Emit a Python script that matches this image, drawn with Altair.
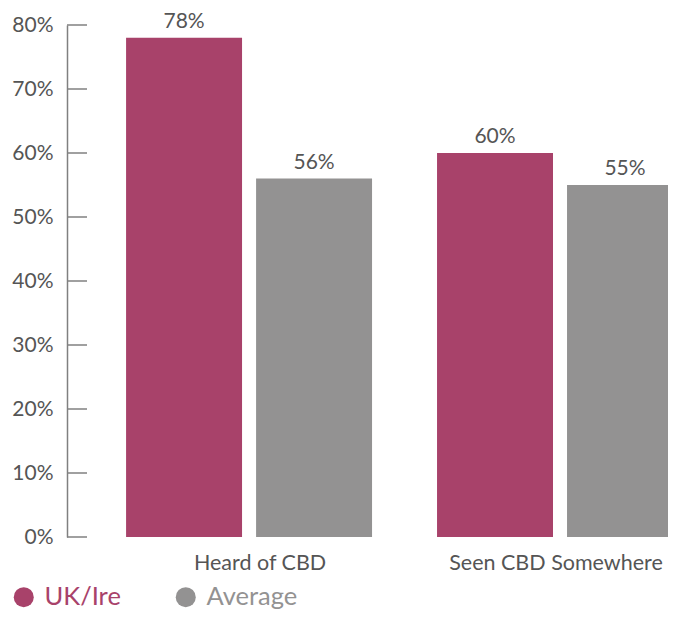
import altair as alt
import pandas as pd

categories = ["Heard of CBD", "Heard of CBD", "Seen CBD Somewhere", "Seen CBD Somewhere"]
series = ["UK/Ire", "Average", "UK/Ire", "Average"]
values = [78, 56, 60, 55]
tick_values = [0, 10, 20, 30, 40, 50, 60, 70, 80]
series_order = ["UK/Ire", "Average"]
series_colors = ["#a8426a", "#939292"]

df = pd.DataFrame({"category": categories, "series": series, "value": values})
df["label"] = [f"{v}%" for v in values]
ticks = pd.DataFrame({"t": tick_values})

FONT = "Lato"
TXT = "#555555"

x_enc = alt.X("category:N", sort=["Heard of CBD", "Seen CBD Somewhere"],
              scale=alt.Scale(paddingInner=0.209, paddingOuter=0.095, align=1, range=[0, 616]),
              axis=alt.Axis(title=None, domain=False, ticks=False, labelAngle=0, labelLimit=0,
                            labelFontSize=21.5, labelColor=TXT, labelPadding=15, labelFont=FONT,
                            labelOffset=alt.ExprRef("datum.value == 'Heard of CBD' ? 11 : -4")))
xo_enc = alt.XOffset("series:N", sort=series_order,
                     scale=alt.Scale(paddingInner=0.108, paddingOuter=0))
y_scale = alt.Scale(domain=[0, 80], nice=False)

bars = alt.Chart(df).mark_bar().encode(
    x=x_enc,
    xOffset=xo_enc,
    y=alt.Y("value:Q", scale=y_scale,
            axis=alt.Axis(title=None, values=tick_values, grid=False, ticks=False,
                          domainColor="#808080", domainWidth=1.5,
                          labelExpr="datum.value + '%'", labelFontSize=21,
                          labelColor=TXT, labelPadding=14, labelFont=FONT)),
    color=alt.Color("series:N", sort=series_order,
                    scale=alt.Scale(domain=series_order, range=series_colors),
                    legend=alt.Legend(title=None, orient="none", direction="horizontal",
                                      legendX=-56, legendY=559,
                                      symbolType="circle", symbolSize=400,
                                      symbolStrokeWidth=0, labelFontSize=25.5,
                                      labelFont=FONT, labelOffset=8, columnPadding=52,
                                      labelColor=alt.ExprRef("datum.label == 'UK/Ire' ? '#a8426a' : '#939292'"))),
)

text = alt.Chart(df).mark_text(baseline="alphabetic", dy=-10, fontSize=21,
                               color=TXT, font=FONT).encode(
    x=alt.X("category:N", sort=["Heard of CBD", "Seen CBD Somewhere"]),
    xOffset=alt.XOffset("series:N", sort=series_order),
    y=alt.Y("value:Q", scale=y_scale),
    text="label:N",
)

tick_marks = alt.Chart(ticks).mark_rule(color="#808080", strokeWidth=1.5).encode(
    y=alt.Y("t:Q", scale=y_scale),
    x=alt.value(0),
    x2=alt.value(20),
)

chart = alt.layer(bars, tick_marks, text).properties(
    width=601, height=512,
    autosize=alt.AutoSizeParams(type="none"),
    padding={"left": 59, "top": 17, "right": 0, "bottom": 76},
).configure_view(stroke=None)

chart.save("out.html", embed_options={"renderer": "svg", "actions": False})
